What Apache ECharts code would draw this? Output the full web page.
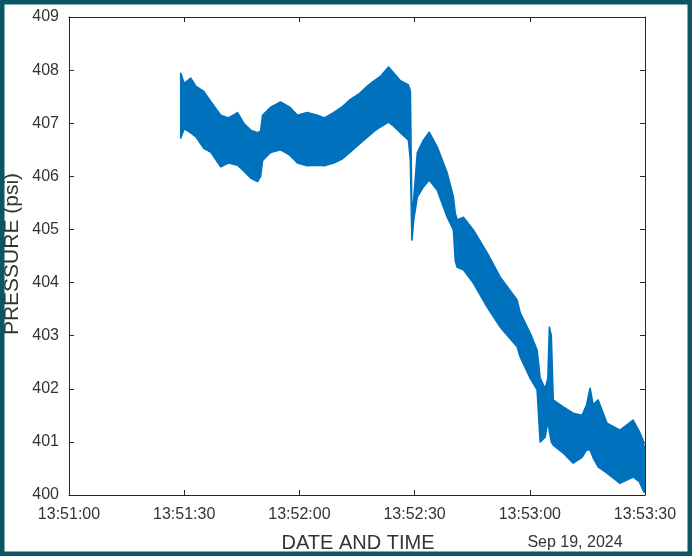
<!DOCTYPE html>
<html>
<head>
<meta charset="utf-8">
<script src="https://cdn.jsdelivr.net/npm/echarts@6/dist/echarts.min.js"></script>
<style>
html,body{margin:0;padding:0;background:#ffffff;}
#chart{width:692px;height:556px;}
</style>
</head>
<body>
<div id="chart"></div>
<script>
// Seconds after 13:51:00 (Sep 19, 2024)
const timeSec = [29.1,30.0,31.7,33.0,35.1,37.0,39.5,41.5,43.9,45.5,47.3,49.1,49.9,50.4,52.5,55.1,57.5,59.5,62.0,64.7,66.5,68.9,71.0,73.3,75.5,77.7,79.5,81.1,83.2,84.5,86.3,88.4,88.9,89.3,89.8,90.7,92.3,93.8,95.9,98.5,100.1,100.6,101.1,102.7,105.3,108.9,112.3,116.7,117.5,120.1,121.9,122.7,124.0,124.7,125.1,125.6,126.1,128.7,131.3,133.6,134.8,135.7,136.5,137.8,140.1,143.5,146.9,148.5,149.5,149.8];
// Upper envelope of the pressure trace (psi)
const pressureHigh = [407.94,407.75,407.85,407.7,407.6,407.4,407.15,407.1,407.2,407.0,406.87,406.82,406.85,407.15,407.3,407.4,407.3,407.15,407.2,407.15,407.1,407.2,407.3,407.45,407.55,407.7,407.8,407.88,408.06,407.95,407.8,407.72,407.6,405.2,405.6,406.44,406.68,406.83,406.55,406.06,405.61,405.3,405.18,405.23,404.99,404.56,404.1,403.67,403.43,403.05,402.73,402.2,402.0,402.2,403.16,403.0,401.79,401.66,401.54,401.5,401.7,402.01,401.7,401.79,401.35,401.22,401.41,401.2,401.03,400.9];
// Lower envelope of the pressure trace (psi)
const pressureLow = [406.72,406.9,406.82,406.75,406.53,406.45,406.18,406.25,406.21,406.1,405.97,405.9,406.0,406.3,406.45,406.5,406.4,406.25,406.2,406.21,406.2,406.25,406.32,406.46,406.6,406.74,406.85,406.93,407.02,406.95,406.82,406.68,406.3,404.8,405.2,405.61,405.8,405.93,405.74,405.23,404.99,404.4,404.29,404.24,403.99,403.54,403.16,402.79,402.6,402.2,401.98,401.0,401.09,401.4,401.2,401.0,400.94,400.79,400.6,400.71,400.85,400.85,400.7,400.53,400.41,400.22,400.34,400.25,400.09,400.05];
const xTickLabels = ['13:51:00','13:51:30','13:52:00','13:52:30','13:53:00','13:53:30'];
const xMin = 0, xMax = 150, xStep = 30;
const yMin = 400, yMax = 409, yStep = 1;

const axisColor = '#262626';
const textColor = '#333333';
const fontFam = 'Liberation Sans, Arial, sans-serif';

const chart = echarts.init(document.getElementById('chart'), null, {renderer:'canvas'});
const mkX = (pos, showLabel) => ({
  type:'value', position:pos, min:xMin, max:xMax, interval:xStep,
  axisLine:{show:true, onZero:false, lineStyle:{color:axisColor, width:1}},
  axisTick:{show:true, inside:true, length:5, lineStyle:{color:axisColor}},
  splitLine:{show:false},
  axisLabel:{show:showLabel, color:textColor, fontSize:16, fontFamily:fontFam, margin:12,
    formatter:(v)=>xTickLabels[Math.round((v-xMin)/xStep)] || ''}
});
const mkY = (pos, showLabel) => ({
  type:'value', position:pos, min:yMin, max:yMax, interval:yStep,
  axisLine:{show:true, onZero:false, lineStyle:{color:axisColor, width:1}},
  axisTick:{show:true, inside:true, length:5, lineStyle:{color:axisColor}},
  splitLine:{show:false},
  axisLabel:{show:showLabel, color:textColor, fontSize:16, fontFamily:fontFam, margin:10}
});

chart.setOption({
  animation:false,
  backgroundColor:'#ffffff',
  grid:{left:69, right:47, top:17, bottom:61, containLabel:false},
  xAxis:[mkX('bottom', true), mkX('top', false)],
  yAxis:[mkY('left', true), mkY('right', false)],
  graphic:[
    {type:'rect', z:100, silent:true, shape:{x:0,y:0,width:692,height:556},
     style:{fill:'none', stroke:'#0b5565', lineWidth:9}},
    {type:'text', x:358, y:543, style:{text:'DATE AND TIME', fill:textColor, fontSize:20, fontFamily:fontFam, textAlign:'center', textVerticalAlign:'middle'}},
    {type:'text', x:575, y:543, style:{text:'Sep 19, 2024', fill:textColor, fontSize:16, fontFamily:fontFam, textAlign:'center', textVerticalAlign:'middle'}},
    {type:'text', x:12, y:254, rotation:Math.PI/2, style:{text:'PRESSURE (psi)', fill:textColor, fontSize:21, fontFamily:fontFam, textAlign:'center', textVerticalAlign:'middle'}}
  ],
  series:[{
    type:'custom',
    xAxisIndex:0, yAxisIndex:0,
    data:[[timeSec[0], pressureHigh[0]]],
    renderItem:function(params, api){
      if (params.dataIndex !== 0) return null;
      const pts = [];
      for (let i=0;i<timeSec.length;i++) pts.push(api.coord([timeSec[i], pressureHigh[i]]));
      for (let i=timeSec.length-1;i>=0;i--) pts.push(api.coord([timeSec[i], pressureLow[i]]));
      return {type:'polygon', shape:{points:pts}, style:{fill:'#0072BD', stroke:'#0072BD', lineWidth:1.6, lineJoin:'round'}};
    }
  }]
});
</script>
</body>
</html>
